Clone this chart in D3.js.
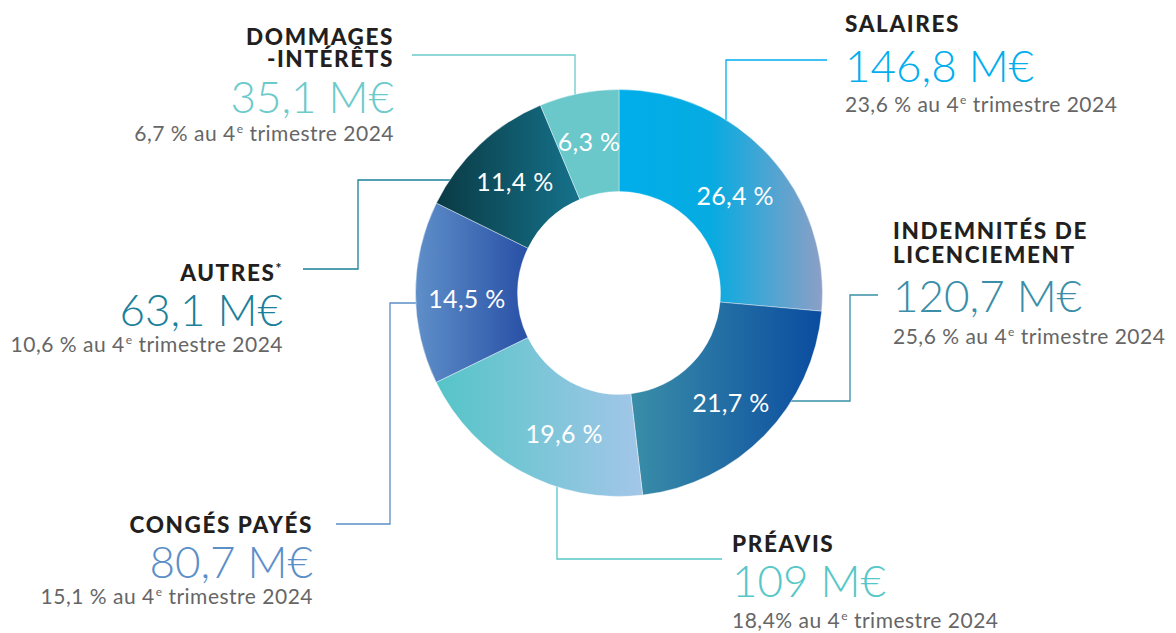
<!DOCTYPE html>
<html>
<head>
<meta charset="utf-8">
<script src="https://cdn.jsdelivr.net/npm/d3@7"></script>
<style>
  body { margin: 0; background: #fff; }
  .chart text { font-family: Lato, "Noto Sans", sans-serif; }
</style>
</head>
<body>
<div class="chart"></div>
<script>
// data
const categories = ['SALAIRES', 'INDEMNITÉS DE|LICENCIEMENT', 'PRÉAVIS', 'CONGÉS PAYÉS', 'AUTRES*', 'DOMMAGES|-INTÉRÊTS'];
const shares = [26.4, 21.7, 19.6, 14.5, 11.4, 6.3];
const amounts = ['146,8', '120,7', '109', '80,7', '63,1', '35,1'];
const prevShares = ['23,6 %', '25,6 %', '18,4%', '15,1 %', '10,6 %', '6,7 %'];
const prevPeriod = ['4', 'e', ' trimestre 2024'];

// styles
const valueColors = ['#00aeef', '#3a8ea8', '#55c7c8', '#5b8fc8', '#1a7f9a', '#6ccacb'];
const gradStops = [
  [[0, '#00aeea'], [0.45, '#06abe1'], [1, '#8c9fc6']],
  [[0, '#3a8ea8'], [1, '#0a4ca0']],
  [[0, '#55c5c8'], [1, '#a3c6e8']],
  [[0, '#5f8fc9'], [1, '#2850a6']],
  [[0, '#0a3a44'], [1, '#15728b']],
  [[0, '#6ac8cb'], [1, '#6ac8cb']]
];

// label blocks: anchor x, baselines of heading lines / value / subtitle
const blocks = [
  { x: 845, anchor: 'start', head: [32], value: 82, sub: 112 },
  { x: 893, anchor: 'start', head: [239, 263], value: 312, sub: 344 },
  { x: 732, anchor: 'start', head: [552], value: 597, sub: 628 },
  { x: 313, anchor: 'end', head: [533], value: 578, sub: 604 },
  { x: 283, anchor: 'end', head: [281], value: 326, sub: 352 },
  { x: 394, anchor: 'end', head: [45, 67], value: 113, sub: 141 }
];
const leaders = [
  [[827, 60], [726, 60], [726, 140]],
  [[878, 295], [850, 295], [850, 401], [780, 401]],
  [[722, 559], [557, 559], [557, 470]],
  [[336, 524], [390, 524], [390, 303], [440, 303]],
  [[303, 269], [358, 269], [358, 180], [470, 180]],
  [[412, 55], [575, 55], [575, 120]]
];
const labelNudge = [[4, 6], [3, 4], [18, 8], [0, 6], [0, 0], [0, -2]];

const width = 1176, height = 633;
const cx = 619, cy = 293;
const rOuter = 203.5, rInner = 101.5;

const svg = d3.select('.chart').append('svg')
  .attr('width', width)
  .attr('height', height);

const defs = svg.append('defs');
gradStops.forEach((stops, i) => {
  const g = defs.append('linearGradient')
    .attr('id', 'grad' + i)
    .attr('x1', 0).attr('x2', 1).attr('y1', 0).attr('y2', 0);
  stops.forEach(s => g.append('stop').attr('offset', s[0]).attr('stop-color', s[1]));
});

// leader lines (under the donut)
const line = d3.line();
svg.append('g').selectAll('path')
  .data(leaders)
  .join('path')
  .attr('d', line)
  .attr('fill', 'none')
  .attr('stroke', (d, i) => valueColors[i])
  .attr('stroke-width', 1.3);

const pie = d3.pie().sort(null).value(d => d);
const arc = d3.arc().innerRadius(rInner).outerRadius(rOuter);
const labelArc = d3.arc().innerRadius(152).outerRadius(152);

const donut = svg.append('g').attr('transform', 'translate(' + cx + ',' + cy + ')');
const arcs = pie(shares);

donut.selectAll('path')
  .data(arcs)
  .join('path')
  .attr('d', arc)
  .attr('fill', (d, i) => 'url(#grad' + i + ')')
  .attr('stroke', '#fff')
  .attr('stroke-width', 0.4);

donut.selectAll('text')
  .data(arcs)
  .join('text')
  .attr('transform', (d, i) => {
    const c = labelArc.centroid(d);
    return 'translate(' + (c[0] + labelNudge[i][0]) + ',' + (c[1] + labelNudge[i][1]) + ')';
  })
  .attr('text-anchor', 'middle')
  .attr('dy', '0.36em')
  .attr('fill', '#fff')
  .attr('font-size', 25)
  .attr('letter-spacing', 0.3)
  .text(d => d3.format('.1f')(d.data).replace('.', ',') + ' %');

// category labels
const lab = svg.append('g').selectAll('g')
  .data(blocks)
  .join('g');

lab.each(function(b, i) {
  const g = d3.select(this);
  categories[i].split('|').forEach((t, k) => {
    g.append('text')
      .attr('x', b.x).attr('y', b.head[k])
      .attr('text-anchor', b.anchor)
      .attr('font-size', 22.5)
      .attr('font-weight', 900)
      .attr('letter-spacing', 1.6)
      .attr('fill', '#231f20')
      .text(t.replace('*', ''))
      .call(s => {
        if (t.includes('*')) s.append('tspan').attr('font-size', 14).attr('dy', -8).text('*');
      });
  });
  g.append('text')
    .attr('x', b.x).attr('y', b.value)
    .attr('text-anchor', b.anchor)
    .attr('font-size', 44)
    .attr('font-weight', 300)
    .attr('fill', valueColors[i])
    .text(amounts[i] + ' M€');
  const st = g.append('text')
    .attr('x', b.x).attr('y', b.sub)
    .attr('text-anchor', b.anchor)
    .attr('font-size', 21)
    .attr('letter-spacing', 0.5)
    .attr('fill', '#666');
  st.append('tspan').text(prevShares[i] + ' au ' + prevPeriod[0]);
  st.append('tspan').attr('font-size', 12).attr('dx', 1).attr('dy', -8).text(prevPeriod[1]);
  st.append('tspan').attr('dy', 8).text(prevPeriod[2]);
});
</script>
</body>
</html>
